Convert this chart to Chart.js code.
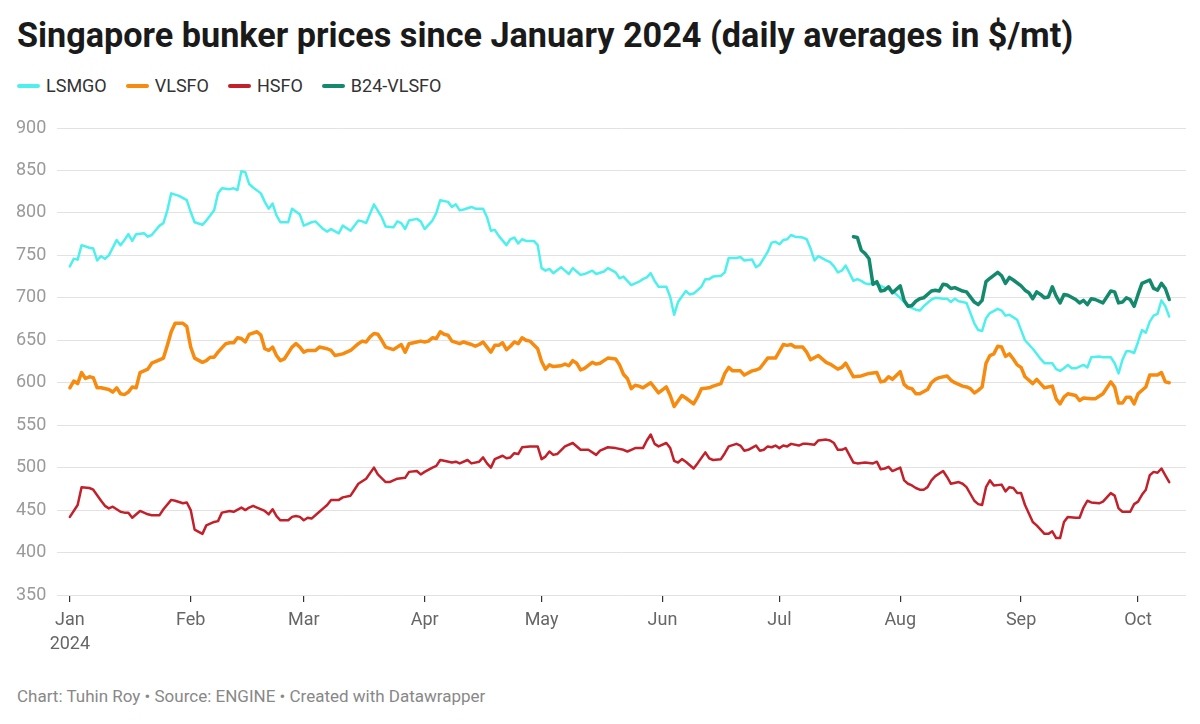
<!DOCTYPE html>
<html>
<head>
<meta charset="utf-8">
<script src="https://cdn.jsdelivr.net/npm/chart.js@4.4.1/dist/chart.umd.min.js"></script>
<style>
  html, body { margin: 0; padding: 0; background: #fff; }
  body { width: 1200px; height: 724px; position: relative; overflow: hidden; font-family: Roboto, sans-serif; }
  #title { position: absolute; left: 17px; top: 15px; font-size: 34.2px; font-weight: 700; color: #1a1a1a; line-height: 1.2; white-space: nowrap; }
  #legend { position: absolute; left: 17px; top: 74px; display: flex; font-size: 18px; color: #333; line-height: 24px; }
  .item { display: flex; align-items: center; margin-right: 19px; }
  .swatch { width: 23px; border-radius: 3px; margin-right: 6px; }
  #wrap { position: absolute; left: 0; top: 108px; width: 1200px; height: 562px; }
  #footer { position: absolute; left: 17px; top: 686px; font-size: 17px; color: #888; }
</style>
</head>
<body>
<div id="title">Singapore bunker prices since January 2024 (daily averages in $/mt)</div>
<div id="legend"></div>
<div id="wrap"><canvas id="chart"></canvas></div>
<div id="footer">Chart: Tuhin Roy • Source: ENGINE • Created with Datawrapper</div>
<script>
// Days since 1 Jan 2024 and daily averages in $/mt
const lsmgoDays = [
  0, 1, 2, 3, 5, 6, 7, 8, 9, 10,
  12, 13, 14, 15, 16, 17, 19, 20, 21, 23,
  24, 25, 26, 28, 30, 31, 32, 34, 35, 36,
  37, 38, 39, 41, 42, 43, 44, 45, 46, 47,
  49, 50, 51, 52, 53, 54, 56, 57, 59, 60,
  62, 63, 65, 66, 67, 69, 70, 72, 74, 75,
  76, 78, 80, 81, 83, 84, 85, 86, 87, 89,
  90, 91, 93, 94, 95, 97, 98, 99, 100, 101,
  103, 104, 106, 107, 108, 109, 110, 112, 113, 114,
  115, 116, 117, 119, 120, 121, 122, 123, 124, 126,
  127, 128, 129, 130, 131, 132, 134, 135, 137, 138,
  140, 141, 142, 143, 144, 146, 147, 148, 149, 150,
  151, 153, 154, 155, 156, 158, 159, 160, 162, 163,
  164, 165, 167, 168, 169, 171, 172, 173, 175, 176,
  177, 179, 180, 181, 182, 183, 184, 185, 186, 188,
  189, 190, 191, 192, 194, 195, 196, 197, 198, 199,
  201, 202, 203, 204, 205, 206, 207, 209, 211, 213,
  215, 217, 218, 219, 221, 222, 224, 225, 226, 227,
  228, 229, 230, 232, 233, 234, 235, 236, 238, 239,
  240, 241, 243, 244, 245, 247, 248, 249, 250, 252,
  253, 254, 255, 256, 257, 258, 259, 260, 261, 262,
  264, 265, 267, 268, 269, 270, 271, 272, 273, 274,
  275, 276, 277, 278, 279, 280, 281, 282
];
const lsmgoValues = [
  737, 746, 745, 762, 759, 758, 744, 749, 746, 750,
  768, 762, 768, 775, 767, 775, 776, 772, 774, 785,
  788, 803, 823, 820, 815, 801, 789, 786, 791, 797,
  803, 823, 829, 828, 829, 827, 849, 848, 834, 830,
  823, 813, 805, 811, 797, 789, 789, 805, 798, 785,
  789, 790, 781, 778, 781, 776, 785, 779, 791, 790,
  788, 810, 795, 784, 783, 790, 788, 781, 791, 793,
  790, 781, 791, 800, 815, 813, 807, 810, 803, 804,
  807, 805, 805, 795, 779, 780, 773, 762, 769, 771,
  764, 769, 767, 767, 762, 735, 732, 734, 729, 736,
  732, 728, 735, 731, 727, 728, 732, 728, 731, 735,
  730, 723, 725, 720, 715, 719, 722, 724, 729, 720,
  713, 713, 701, 680, 695, 708, 704, 705, 713, 722,
  722, 725, 726, 730, 747, 747, 748, 744, 745, 736,
  739, 754, 765, 766, 763, 768, 769, 774, 772, 771,
  769, 758, 744, 749, 744, 742, 737, 730, 732, 738,
  720, 722, 720, 717, 716, 718, 716, 712, 708, 700,
  690, 686, 685, 690, 698, 700, 699, 699, 695, 699,
  696, 695, 694, 670, 662, 661, 676, 682, 687, 685,
  679, 680, 674, 662, 650, 640, 634, 628, 623, 623,
  616, 614, 617, 621, 617, 617, 619, 621, 618, 630,
  631, 630, 630, 623, 611, 627, 637, 637, 635, 648,
  662, 659, 672, 679, 681, 697, 690, 678
];

const vlsfoDays = [
  0, 1, 2, 3, 4, 5, 6, 7, 8, 10,
  11, 12, 13, 14, 15, 16, 17, 18, 19, 20,
  21, 23, 24, 25, 26, 27, 29, 30, 31, 32,
  34, 35, 36, 37, 38, 40, 41, 42, 43, 44,
  45, 46, 48, 49, 50, 51, 52, 53, 54, 55,
  57, 58, 59, 60, 61, 63, 64, 66, 67, 68,
  70, 71, 72, 74, 75, 76, 77, 78, 79, 80,
  81, 83, 85, 86, 87, 89, 90, 91, 92, 93,
  94, 95, 96, 97, 98, 100, 101, 103, 104, 105,
  106, 107, 108, 109, 110, 111, 112, 113, 114, 115,
  116, 117, 118, 120, 121, 122, 123, 124, 126, 127,
  128, 129, 130, 131, 132, 134, 135, 136, 137, 138,
  140, 141, 142, 143, 144, 145, 146, 147, 149, 151,
  153, 154, 155, 157, 158, 160, 161, 162, 164, 165,
  167, 168, 169, 170, 172, 173, 175, 176, 177, 178,
  179, 180, 181, 183, 184, 185, 186, 188, 189, 190,
  192, 194, 195, 197, 198, 199, 201, 203, 205, 207,
  208, 209, 210, 211, 213, 214, 215, 216, 217, 218,
  220, 221, 222, 223, 225, 226, 227, 229, 230, 231,
  232, 233, 234, 235, 236, 237, 238, 239, 240, 241,
  242, 243, 244, 245, 247, 248, 249, 250, 252, 253,
  254, 255, 256, 258, 259, 260, 262, 263, 264, 265,
  267, 268, 269, 270, 271, 272, 273, 274, 276, 277,
  279, 280, 281, 282
];
const vlsfoValues = [
  594, 602, 599, 612, 605, 607, 606, 594, 594, 592,
  589, 594, 587, 586, 589, 595, 594, 612, 614, 616,
  623, 627, 629, 644, 660, 670, 670, 666, 642, 629,
  624, 626, 630, 630, 636, 646, 647, 647, 653, 652,
  648, 657, 660, 656, 640, 638, 642, 632, 626, 628,
  642, 646, 642, 636, 638, 638, 642, 640, 638, 632,
  634, 636, 638, 646, 649, 648, 654, 658, 657, 650,
  642, 639, 645, 636, 646, 648, 649, 648, 649, 653,
  652, 660, 657, 656, 649, 646, 648, 645, 643, 645,
  648, 642, 636, 644, 644, 647, 639, 643, 648, 646,
  653, 650, 649, 640, 625, 616, 621, 619, 620, 622,
  620, 626, 623, 615, 617, 624, 622, 623, 626, 629,
  628, 621, 610, 605, 593, 597, 596, 594, 600, 588,
  595, 585, 572, 585, 582, 575, 583, 593, 594, 596,
  599, 611, 618, 614, 614, 609, 614, 615, 617, 623,
  629, 629, 629, 645, 644, 645, 642, 642, 636, 627,
  632, 624, 622, 616, 618, 623, 607, 608, 611, 612,
  601, 602, 607, 604, 613, 598, 594, 593, 587, 587,
  592, 600, 604, 606, 608, 603, 600, 596, 595, 593,
  588, 591, 595, 623, 632, 634, 643, 642, 631, 634,
  628, 621, 618, 607, 599, 604, 599, 594, 596, 581,
  575, 583, 587, 585, 579, 582, 581, 581, 584, 587,
  601, 595, 576, 576, 583, 583, 575, 587, 595, 609,
  609, 612, 601, 600
];

const hsfoDays = [
  0, 2, 3, 5, 6, 8, 9, 10, 11, 13,
  14, 15, 16, 18, 20, 21, 23, 24, 26, 27,
  29, 30, 31, 32, 34, 35, 37, 38, 39, 41,
  42, 44, 45, 46, 47, 48, 50, 51, 52, 53,
  54, 56, 57, 58, 59, 60, 61, 62, 64, 65,
  66, 67, 69, 70, 72, 73, 74, 76, 78, 79,
  81, 82, 84, 86, 87, 89, 90, 91, 93, 94,
  95, 96, 98, 99, 100, 102, 103, 105, 106, 107,
  108, 109, 111, 112, 113, 114, 115, 116, 118, 120,
  121, 122, 123, 124, 125, 127, 129, 131, 133, 135,
  136, 138, 140, 142, 143, 144, 145, 147, 148, 149,
  150, 151, 153, 154, 155, 156, 157, 158, 160, 161,
  163, 164, 165, 167, 168, 169, 171, 172, 173, 174,
  176, 177, 178, 179, 180, 181, 182, 183, 184, 185,
  187, 188, 189, 191, 192, 194, 195, 196, 197, 198,
  199, 201, 202, 204, 206, 207, 208, 209, 210, 211,
  213, 214, 215, 216, 217, 218, 219, 220, 221, 222,
  224, 225, 226, 228, 229, 230, 232, 233, 234, 235,
  236, 237, 239, 240, 241, 242, 243, 244, 245, 247,
  248, 249, 250, 251, 252, 253, 254, 255, 256, 258,
  259, 260, 261, 262, 264, 265, 266, 267, 268, 269,
  270, 272, 273, 274, 275, 276, 277, 278, 279, 280,
  281, 282
];
const hsfoValues = [
  442, 456, 477, 476, 474, 461, 455, 452, 454, 448,
  447, 447, 441, 449, 445, 444, 444, 451, 462, 461,
  458, 459, 450, 427, 422, 432, 436, 437, 447, 449,
  448, 453, 450, 453, 455, 453, 449, 445, 451, 443,
  438, 438, 442, 443, 442, 438, 441, 440, 448, 452,
  456, 462, 462, 465, 467, 474, 481, 487, 500, 492,
  483, 483, 487, 488, 495, 496, 492, 495, 500, 502,
  509, 508, 506, 507, 505, 509, 505, 507, 512, 505,
  500, 510, 514, 511, 512, 517, 516, 524, 525, 525,
  510, 513, 519, 515, 516, 525, 529, 521, 521, 515,
  520, 524, 523, 521, 519, 521, 523, 523, 532, 539,
  528, 525, 529, 523, 508, 506, 510, 507, 499, 505,
  518, 511, 509, 510, 517, 525, 528, 526, 520, 521,
  526, 520, 521, 525, 524, 526, 523, 526, 525, 528,
  526, 528, 528, 527, 532, 533, 532, 529, 521, 521,
  523, 506, 505, 506, 505, 507, 498, 499, 501, 496,
  500, 485, 481, 479, 476, 474, 474, 477, 485, 490,
  496, 489, 481, 483, 481, 477, 461, 457, 456, 477,
  485, 479, 480, 472, 477, 476, 470, 470, 456, 436,
  432, 427, 422, 422, 425, 417, 417, 436, 442, 441,
  441, 453, 461, 459, 458, 460, 465, 470, 467, 452,
  448, 448, 457, 460, 468, 474, 491, 495, 494, 499,
  491, 483
];

const b24Days = [
  201, 202, 203, 204, 205, 206, 207, 208, 209, 210,
  211, 213, 214, 215, 216, 217, 218, 219, 221, 222,
  223, 224, 225, 226, 227, 229, 230, 232, 233, 234,
  235, 236, 238, 239, 240, 241, 242, 244, 245, 246,
  247, 248, 249, 250, 251, 252, 253, 254, 255, 256,
  258, 259, 260, 261, 262, 263, 265, 267, 268, 269,
  270, 271, 272, 273, 274, 275, 277, 278, 279, 280,
  281, 282
];
const b24Values = [
  772, 771, 756, 752, 746, 716, 719, 708, 709, 713,
  706, 714, 697, 690, 691, 696, 699, 700, 708, 709,
  708, 716, 715, 711, 712, 708, 707, 695, 692, 697,
  719, 723, 730, 726, 717, 724, 721, 714, 709, 706,
  699, 707, 704, 700, 701, 713, 702, 694, 704, 703,
  698, 694, 697, 692, 699, 698, 694, 708, 707, 694,
  695, 700, 698, 690, 704, 717, 721, 711, 709, 717,
  711, 698
];

// axis ticks
const monthDays = [0, 31, 60, 91, 121, 152, 182, 213, 244, 274];
const monthLabels = ['Jan', 'Feb', 'Mar', 'Apr', 'May', 'Jun', 'Jul', 'Aug', 'Sep', 'Oct'];
const yTicks = [350, 400, 450, 500, 550, 600, 650, 700, 750, 800, 850, 900];

const series = [
  { label: 'LSMGO', days: lsmgoDays, values: lsmgoValues, color: '#4ef0ee', width: 2.5, order: 3 },
  { label: 'VLSFO', days: vlsfoDays, values: vlsfoValues, color: '#f68b0f', width: 3.5, order: 2 },
  { label: 'HSFO', days: hsfoDays, values: hsfoValues, color: '#c2202a', width: 2.5, order: 1 },
  { label: 'B24-VLSFO', days: b24Days, values: b24Values, color: '#138a6e', width: 3.5, order: 0 }
];

// legend
const legend = document.getElementById('legend');
series.forEach(s => {
  const item = document.createElement('div');
  item.className = 'item';
  item.innerHTML = '<span class="swatch" style="height:' + (s.width + 1) + 'px;background:' + s.color + '"></span>' + s.label;
  legend.appendChild(item);
});

Chart.defaults.font.family = 'Roboto, sans-serif';

new Chart(document.getElementById('chart'), {
  type: 'line',
  data: {
    datasets: series.map(s => ({
      label: s.label,
      data: s.days.map((d, i) => ({ x: d, y: s.values[i] })),
      borderColor: s.color,
      borderWidth: s.width,
      pointRadius: 0,
      tension: 0,
      fill: false,
      borderJoinStyle: 'round',
      borderCapStyle: 'round',
      order: s.order
    }))
  },
  options: {
    responsive: true,
    maintainAspectRatio: false,
    animation: false,
    events: [],
    layout: { padding: { left: 16, right: 14, top: 20, bottom: 0 } },
    plugins: { legend: { display: false }, tooltip: { enabled: false } },
    scales: {
      x: {
        type: 'linear',
        min: -3.3,
        max: 286.3,
        afterBuildTicks: scale => { scale.ticks = monthDays.map(v => ({ value: v })); },
        afterFit: scale => { scale.height = 75; },
        ticks: {
          autoSkip: false,
          maxRotation: 0,
          color: '#666',
          font: { size: 18, lineHeight: 1.33 },
          padding: 7,
          callback: v => {
            const i = monthDays.indexOf(v);
            return i === 0 ? [monthLabels[0], '2024'] : monthLabels[i];
          }
        },
        grid: { drawOnChartArea: false, drawTicks: true, tickLength: 7, color: '#333', lineWidth: 1.2 },
        border: { display: false }
      },
      y: {
        min: 350,
        max: 900,
        afterBuildTicks: scale => { scale.ticks = yTicks.map(v => ({ value: v })); },
        afterFit: scale => { scale.width = 41; },
        ticks: { color: '#9a9a9a', font: { size: 18 }, crossAlign: 'far', padding: 0 },
        grid: { color: '#e2e2e2', drawTicks: false, lineWidth: 1 },
        border: { display: false }
      }
    }
  }
});
</script>
</body>
</html>
